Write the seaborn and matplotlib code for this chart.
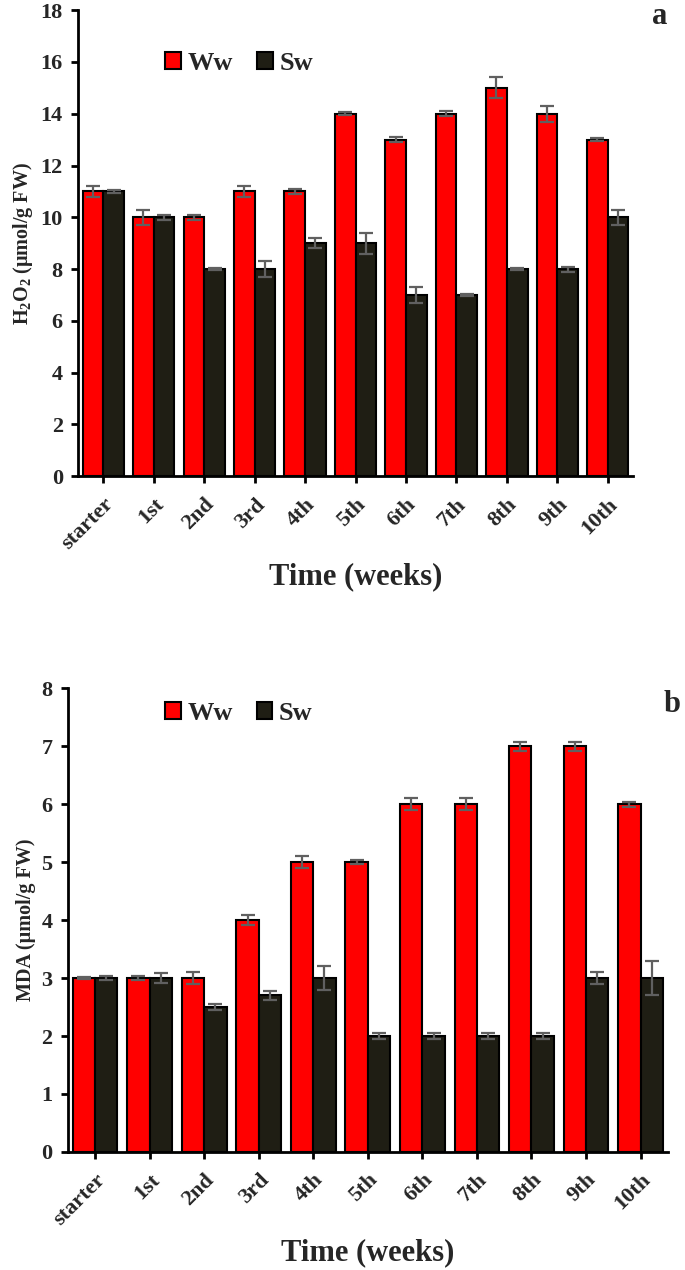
import numpy as np
import pandas as pd
import matplotlib
matplotlib.use("Agg")
import matplotlib.pyplot as plt
import seaborn as sns
from matplotlib.patches import Patch

weeks = ["starter", "1st", "2nd", "3rd", "4th", "5th", "6th", "7th", "8th", "9th", "10th"]
groups = ["Ww", "Sw"]

h2o2_ww = [11, 10, 10, 11, 11, 14, 13, 14, 15, 14, 13]
h2o2_ww_err = [0.2, 0.3, 0.1, 0.2, 0.1, 0.05, 0.1, 0.1, 0.4, 0.3, 0.05]
h2o2_sw = [11, 10, 8, 8, 9, 9, 7, 7, 8, 8, 10]
h2o2_sw_err = [0.05, 0.1, 0.05, 0.3, 0.2, 0.4, 0.3, 0.03, 0.05, 0.1, 0.3]

mda_ww = [3, 3, 3, 4, 5, 5, 6, 6, 7, 7, 6]
mda_ww_err = [0.02, 0.03, 0.1, 0.08, 0.1, 0.03, 0.1, 0.1, 0.08, 0.08, 0.04]
mda_sw = [3, 3, 2.5, 2.7, 3, 2, 2, 2, 2, 3, 3]
mda_sw_err = [0.03, 0.08, 0.05, 0.08, 0.2, 0.05, 0.05, 0.05, 0.05, 0.1, 0.3]

colors = {"Ww": "#ff0000", "Sw": "#1f1e14"}

sns.set_theme(style="white")
plt.rcParams["font.family"] = ["Liberation Serif", "DejaVu Serif"]
plt.rcParams["font.weight"] = "bold"
plt.rcParams["mathtext.fontset"] = "custom"
plt.rcParams["mathtext.rm"] = "Liberation Serif:bold"
plt.rcParams["mathtext.bf"] = "Liberation Serif:bold"
plt.rcParams["mathtext.it"] = "Liberation Serif:bold"

fig = plt.figure(figsize=(6.85, 12.7), dpi=100)
ax_a = fig.add_axes([0.114, 0.625, 0.81, 0.367])
ax_b = fig.add_axes([0.099, 0.093, 0.876, 0.365])


def panel(ax, ww, ww_err, sw, sw_err, ymax, ylabel, leg_pos):
    df = pd.DataFrame({
        "week": weeks * 2,
        "group": ["Ww"] * len(weeks) + ["Sw"] * len(weeks),
        "value": list(ww) + list(sw),
    })
    sns.barplot(data=df, x="week", y="value", hue="group", order=weeks,
                hue_order=groups, palette=colors, width=0.82, ax=ax,
                edgecolor="black", linewidth=1.5, errorbar=None, legend=False,
                saturation=1)
    errs = {"Ww": ww_err, "Sw": sw_err}
    vals = {"Ww": ww, "Sw": sw}
    for container, g in zip(ax.containers, groups):
        xs = [p.get_x() + p.get_width() / 2 for p in container.patches]
        ax.errorbar(xs, vals[g], yerr=errs[g], fmt="none", ecolor="#606060",
                    elinewidth=1.6, capsize=5, capthick=1.6, zorder=5)
    ax.set_xlim(-0.5, 10.5)
    ax.set_ylim(0, ymax)
    ax.set_ylabel(ylabel, fontsize=14.5, fontweight="bold", labelpad=4)
    ax.set_xlabel("Time (weeks)", fontsize=22, fontweight="bold", labelpad=6)
    for s in ["top", "right"]:
        ax.spines[s].set_visible(False)
    for s in ["left", "bottom"]:
        ax.spines[s].set_color("black")
        ax.spines[s].set_linewidth(2)
    ax.tick_params(axis="both", direction="out", length=5, width=2, color="black",
                   bottom=True, left=True)
    ax.tick_params(axis="y", labelsize=16, pad=6)
    ax.tick_params(axis="x", labelsize=16, pad=8)
    for lab in ax.get_xticklabels():
        lab.set_rotation(45)
        lab.set_ha("right")
        lab.set_rotation_mode("anchor")
        lab.set_fontweight("bold")
    for lab in ax.get_yticklabels():
        lab.set_fontweight("bold")
    handles = [Patch(facecolor=colors[g], edgecolor="black", linewidth=1.5, label=g) for g in groups]
    ax.legend(handles=handles, loc="center", bbox_to_anchor=leg_pos, ncol=2,
              frameon=False, prop={"size": 19, "weight": "bold"},
              handlelength=0.6, handleheight=0.6, handletextpad=0.25,
              columnspacing=0.9)


panel(ax_a, h2o2_ww, h2o2_ww_err, h2o2_sw, h2o2_sw_err, 18,
      r"H$_2$O$_2$ ($\mathrm{\mu}$mol/g FW)", (0.29, 0.886))
panel(ax_b, mda_ww, mda_ww_err, mda_sw, mda_sw_err, 8,
      "MDA (µmol/g FW)", (0.285, 0.946))

fig.text(660 / 685, 1 - 17 / 1270, "a", fontsize=22, fontweight="bold",
         ha="center", va="center")
fig.text(672 / 685, 1 - 705 / 1270, "b", fontsize=22, fontweight="bold",
         ha="center", va="center")

fig.savefig("out.png", dpi=100)
